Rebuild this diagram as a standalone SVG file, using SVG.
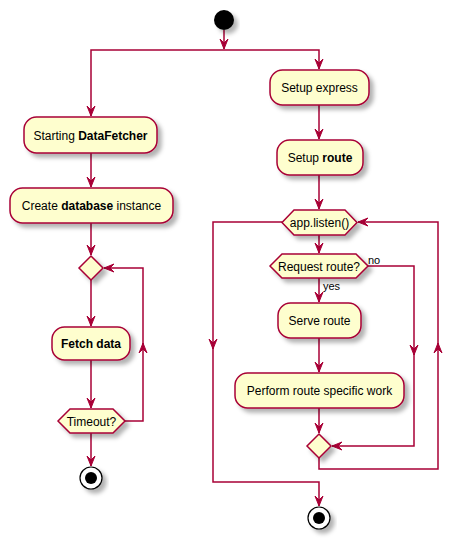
<svg xmlns="http://www.w3.org/2000/svg" width="463" height="538" viewBox="0 0 463 538">
<defs>
<filter id="sh" x="-20%" y="-20%" width="150%" height="160%">
<feGaussianBlur in="SourceAlpha" stdDeviation="2"/>
<feOffset dx="4" dy="4" result="b"/>
<feFlood flood-color="#000" flood-opacity="0.3"/>
<feComposite in2="b" operator="in"/>
<feMerge><feMergeNode/><feMergeNode in="SourceGraphic"/></feMerge>
</filter>
<marker id="ah" markerUnits="userSpaceOnUse" markerWidth="12" markerHeight="10" refX="10" refY="4" orient="auto" overflow="visible">
<path d="M0,0 L10,4 L0,8 L4,4 Z" fill="#A80036" stroke="#A80036" stroke-width="1"/>
</marker>
</defs>
<style>
.n{fill:#FEFECE;stroke:#A80036;stroke-width:1.5;filter:url(#sh)}
.t{font-family:"Liberation Sans",Arial,sans-serif;font-size:12px;fill:#000;text-anchor:middle}
.l{font-family:"Liberation Sans",Arial,sans-serif;font-size:11px;fill:#000}
.c path{fill:none;stroke:#A80036;stroke-width:1.5}
.a{marker-end:url(#ah)}
b{font-weight:bold}
</style>
<g class="c" id="connectors">
<path class="a" d="M224,30 V49"/>
<path class="a" d="M224,50 H91 V116"/>
<path class="a" d="M224,50 H319 V69"/>
<path class="a" d="M91,153 V187"/>
<path class="a" d="M91,223 V255"/>
<path class="a" d="M91,280 V326"/>
<path class="a" d="M91,360 V408"/>
<path class="a" d="M91,433 V466"/>
<path class="a" d="M125,421 H143 V343"/>
<path class="a" d="M143,345 V268 H104"/>
<path class="a" d="M319,105 V139"/>
<path class="a" d="M319,175 V209"/>
<path class="a" d="M319,235 V253"/>
<path class="a" d="M319,278 V302"/>
<path class="a" d="M319,338 V372"/>
<path class="a" d="M319,408 V433"/>
<path class="a" d="M368,266 H414 V355"/>
<path class="a" d="M414,353 V446 H332"/>
<path class="a" d="M319,458 V469 H438 V343"/>
<path class="a" d="M438,345 V222 H358"/>
<path class="a" d="M282,222 H213 V349"/>
<path class="a" d="M213,347 V482 H319 V506"/>
<text class="l" x="323" y="290">yes</text>
<text class="l" x="368" y="264">no</text>
</g>
<g id="start"><circle cx="224" cy="20" r="10" fill="#000" filter="url(#sh)"/></g>
<g id="starting"><rect class="n" x="24" y="117" width="133" height="36" rx="12.5"/><text class="t" x="90.5" y="139.5">Starting <tspan font-weight="bold">DataFetcher</tspan></text></g>
<g id="createdb"><rect class="n" x="10" y="188" width="163" height="35" rx="12.5"/><text class="t" x="91.5" y="210">Create <tspan font-weight="bold">database</tspan> instance</text></g>
<g id="merge1"><polygon class="n" points="91,256 103,268 91,280 79,268"/></g>
<g id="fetch"><rect class="n" x="52" y="327" width="78" height="33" rx="12.5"/><text class="t" x="91" y="348" font-weight="bold">Fetch data</text></g>
<g id="timeout"><polygon class="n" points="58,421 70,409 113,409 125,421 113,433 70,433"/><text class="t" x="91.5" y="425.5">Timeout?</text></g>
<g id="end1"><circle cx="91" cy="478" r="11" fill="#fff" stroke="#000" stroke-width="1.2" filter="url(#sh)"/><circle cx="91" cy="478" r="6" fill="#000"/></g>
<g id="express"><rect class="n" x="270" y="70" width="99" height="35" rx="12.5"/><text class="t" x="319.5" y="92">Setup express</text></g>
<g id="route"><rect class="n" x="277" y="140" width="86" height="35" rx="12.5"/><text class="t" x="320" y="162">Setup <tspan font-weight="bold">route</tspan></text></g>
<g id="listen"><polygon class="n" points="282,222.5 294,210 345,210 357,222.5 345,235 294,235"/><text class="t" x="319.5" y="227">app.listen()</text></g>
<g id="request"><polygon class="n" points="270,266 282,254 356,254 368,266 356,278 282,278"/><text class="t" x="319" y="270.5">Request route?</text></g>
<g id="serve"><rect class="n" x="278" y="303" width="83" height="35" rx="12.5"/><text class="t" x="319.5" y="325">Serve route</text></g>
<g id="perform"><rect class="n" x="235" y="373" width="169" height="35" rx="12.5"/><text class="t" x="319.5" y="395">Perform route specific work</text></g>
<g id="merge2"><polygon class="n" points="319,434 331,446 319,458 307,446"/></g>
<g id="end2"><circle cx="319" cy="518" r="11" fill="#fff" stroke="#000" stroke-width="1.2" filter="url(#sh)"/><circle cx="319" cy="518" r="6" fill="#000"/></g>
</svg>
